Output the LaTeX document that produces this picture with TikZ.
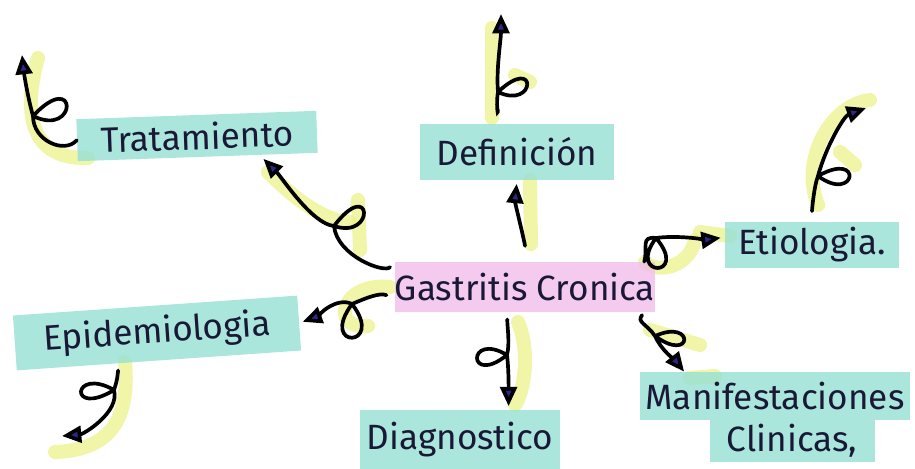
\documentclass[tikz,border=0pt]{standalone}
\usepackage{fontspec}
\setmainfont{Fira Sans}
\usetikzlibrary{arrows.meta}

\definecolor{ink}{RGB}{25,25,55}
\definecolor{tipblue}{RGB}{45,40,140}
\definecolor{tealhl}{RGB}{150,224,212}
\definecolor{pinkhl}{RGB}{242,190,235}
\definecolor{yellowhl}{RGB}{236,241,130}

\tikzset{
  topic/.style={fill=tealhl,fill opacity=.8,text opacity=1,text=ink,
    font=\fontsize{20}{23}\selectfont,inner sep=0pt},
  centre/.style={topic,fill=pinkhl},
  arr/.style={draw=black,line width=2.1pt,line cap=round,
    -{Triangle[length=11pt,width=9.5pt,fill=tipblue]}},
  marker/.style={draw=yellowhl,line width=8pt,opacity=.7,line cap=round},
}

\begin{document}
\begin{tikzpicture}[x=.02cm,y=-.02cm]
\useasboundingbox (0,0) rectangle (915,468);
\fill[white] (0,0) rectangle (915,468);

% highlighter under the arrows
\draw[marker] (38,58) .. controls (26,100) and (22,160) .. (88,158);
\draw[marker] (268,172) .. controls (300,205) and (330,222) .. (350,222);
\draw[marker] (358,200) -- (360,250);
\draw[marker] (492,28) -- (492,118);
\draw[marker] (515,75) -- (530,82);
\draw[marker] (530,180) -- (531,244);
\draw[marker] (870,100) .. controls (830,105) and (800,160) .. (818,205);
\draw[marker] (840,152) -- (855,165);
\draw[marker] (645,262) .. controls (660,275) and (690,265) .. (695,240);
\draw[marker] (700,232) -- (730,236);
\draw[marker] (390,287) .. controls (340,282) and (330,330) .. (368,326);
\draw[marker] (125,362) .. controls (130,420) and (110,450) .. (55,452);
\draw[marker] (518,322) .. controls (530,350) and (525,390) .. (515,405);
\draw[marker] (650,330) -- (700,345);
\draw[marker] (690,378) -- (715,376);

% topics
\node[centre,minimum width=5.2cm,minimum height=1cm] (gas) at (525,287) {Gastritis Cronica};
\node[topic,minimum width=4.8cm,minimum height=.84cm,rotate=2] (trat) at (197,136) {Tratamiento};
\node[topic,minimum width=3.9cm,minimum height=1.12cm] (def) at (517,152) {Definición};
\node[topic,minimum width=3.5cm,minimum height=.92cm] (etio) at (812,245) {Etiologia.};
\node[topic,minimum width=5.7cm,minimum height=1.1cm,rotate=4] (epid) at (157,333) {Epidemiologia};
\node[topic,minimum width=4cm,minimum height=1.2cm] (diag) at (460,440) {Diagnostico};
\node[topic,minimum width=5.4cm,minimum height=.96cm] (manif) at (775,396) {Manifestaciones};
\node[topic,minimum width=3.3cm,minimum height=.84cm] (clin) at (792,441) {Clinicas,};

\coordinate (tratEnd) at (22,55);
\coordinate (defEnd) at (501,14);
\coordinate (etioEnd) at (866,108);
\coordinate (epidEnd) at (62,436);

% curly arrows
\draw[arr] (trat.west) .. controls +(-12,14) and +(0,25) .. (33,116)
  .. controls +(45,-48) and +(45,22) .. (33,116)
  .. controls +(-6,-22) and +(2,18) .. (tratEnd);
\draw[arr,shorten <=4pt,shorten >=3pt] (gas.north west) .. controls +(-10,12) and +(3,30) .. (334,226)
  .. controls +(38,-50) and +(42,14) .. (334,226)
  .. controls +(-22,-2) and +(22,22) .. (trat.-19);
\draw[arr,shorten <=9pt,shorten >=2pt] (gas.north) .. controls +(0,-18) and +(-2,22) .. (def.south);
\draw[arr,shorten <=8pt] (def.124) .. controls +(0,-5) and +(-2,10) .. (498,92)
  .. controls +(40,-38) and +(38,18) .. (498,92)
  .. controls +(-2,-22) and +(0,25) .. (defEnd);
\draw[arr,shorten >=2pt] (gas.12) .. controls +(4,-14) and +(-16,-2) .. (656,238)
  .. controls +(34,40) and +(-30,40) .. (656,238)
  .. controls +(20,-3) and +(-15,2) .. (etio.175);
\draw[arr,shorten <=6pt] (etio.north) .. controls +(0,-12) and +(-4,10) .. (818,176)
  .. controls +(46,-26) and +(38,28) .. (818,176)
  .. controls +(8,-30) and +(-22,8) .. (etioEnd);
\draw[arr,shorten <=5pt,shorten >=2pt] (gas.185) .. controls +(-15,-6) and +(14,-6) .. (352,304)
  .. controls +(-34,46) and +(34,44) .. (352,304)
  .. controls +(-16,-8) and +(16,-6) .. (epid.east);
\draw[arr,shorten <=4pt] (epid.215) .. controls +(-2,12) and +(4,-12) .. (114,390)
  .. controls +(-46,28) and +(-42,-24) .. (114,390)
  .. controls +(6,22) and +(22,-2) .. (epidEnd);
\draw[arr,shorten <=4pt,shorten >=2pt] (gas.-125) .. controls +(0,15) and +(3,-12) .. (507,355)
  .. controls +(-40,32) and +(-40,-24) .. (507,355)
  .. controls +(2,16) and +(0,-15) .. (diag.32);
\draw[arr,shorten <=2pt] (gas.-12) .. controls +(-8,10) and +(-8,-12) .. (655,336)
  .. controls +(38,28) and +(40,-18) .. (655,336)
  .. controls +(6,14) and +(-8,-10) .. (manif.165);
\end{tikzpicture}
\end{document}
